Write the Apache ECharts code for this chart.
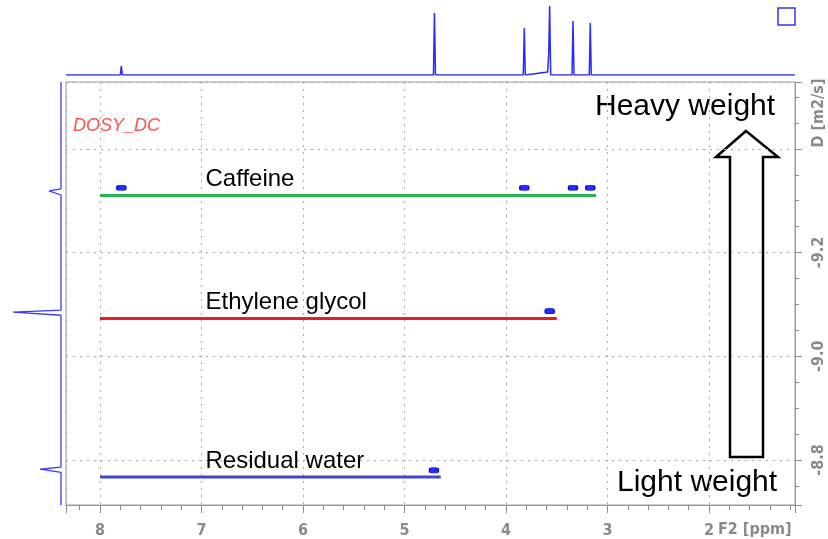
<!DOCTYPE html>
<html>
<head>
<meta charset="utf-8">
<script src="https://cdn.jsdelivr.net/npm/echarts@6/dist/echarts.min.js"></script>
<style>
  html, body { margin: 0; padding: 0; background: #fff; }
  #dosy { width: 828px; height: 539px; }
</style>
</head>
<body>
<div id="dosy"></div>
<script>
// axis ranges (F2 chemical shift, log diffusion coefficient)
var ppmRange = [1.153, 8.335];
var dRange = [-9.529, -8.713];
var xTickLabels = [8, 7, 6, 5, 4, 3, 2];
var yTickLabels = [-9.2, -9.0, -8.8];

// fitted diffusion lines
var compounds = ['Caffeine', 'Ethylene glycol', 'Residual water'];
var compoundD = [-9.310, -9.073, -8.767];
var lineStart = [8.0, 8.0, 8.0];
var lineEnd = [3.113, 3.50, 4.643];

// 2D contour spots
var spotPpm = [7.79, 3.82, 3.34, 3.17, 3.57, 4.71];
var spotD = [-9.325, -9.325, -9.325, -9.325, -9.087, -8.780];

// 1D proton spectrum on top
var specPpm = [8.335, 7.80, 7.79, 7.78, 4.715, 4.705, 4.70, 4.695, 3.83, 3.82, 3.81, 3.59, 3.58, 3.57, 3.56, 3.35, 3.34, 3.33, 3.18, 3.17, 3.16, 1.153];
var specInt = [0, 0, 9, 0, 0, 62, 64, 0, 0, 47, 0, 3, 20, 69, 0, 0, 54, 0, 0, 52, 0, 0];

// diffusion projection on the left
var projD = [-9.529, -9.323, -9.319, -9.311, -9.089, -9.085, -9.079, -8.786, -8.782, -8.776, -8.713];
var projInt = [0, 0, 12, 0, 0, 48, 0, 0, 21, 0, 0];

var lineColors = ['#2cb34a', '#ec1c24', '#3f48cc'];
var tickFont = '"Liberation Sans Narrow", "DejaVu Sans Condensed", sans-serif';
var textFont = '"Liberation Sans", Arial, sans-serif';

function near(v, list) {
  for (var i = 0; i < list.length; i++) {
    if (Math.abs(v - list[i]) < 1e-6) return list[i];
  }
  return null;
}

var chart = echarts.init(document.getElementById('dosy'));

var series = [];
// top spectrum
series.push({
  type: 'line', xAxisIndex: 2, yAxisIndex: 2, symbol: 'none', silent: true,
  lineStyle: { color: '#2a2aff', width: 1.5 },
  data: specPpm.map(function (p, i) { return [p, specInt[i]]; })
});
// left projection
series.push({
  type: 'line', xAxisIndex: 3, yAxisIndex: 3, symbol: 'none', silent: true,
  lineStyle: { color: '#3a3aff', width: 1.3 },
  data: projD.map(function (d, i) { return [projInt[i], d]; })
});
// colored compound lines
compounds.forEach(function (name, i) {
  series.push({
    type: 'line', xAxisIndex: 0, yAxisIndex: 0, symbol: 'none', silent: true,
    lineStyle: { color: lineColors[i], width: 3 },
    data: [[lineStart[i], compoundD[i]], [lineEnd[i], compoundD[i]]]
  });
});
// compound names
series.push({
  type: 'scatter', xAxisIndex: 0, yAxisIndex: 0, symbolSize: 1, silent: true,
  itemStyle: { color: 'transparent', opacity: 1 },
  label: {
    show: true, position: 'right', offset: [100, -16],
    fontFamily: textFont, fontSize: 24, color: '#000', textBorderWidth: 0,
    formatter: function (p) { return compounds[p.dataIndex]; }
  },
  data: compounds.map(function (n, i) { return [lineStart[i], compoundD[i]]; })
});
// contour spots
series.push({
  type: 'scatter', xAxisIndex: 0, yAxisIndex: 0, silent: true,
  symbol: 'roundRect', symbolSize: [9, 5],
  itemStyle: { color: '#1f2fff', borderColor: '#0000dd', borderWidth: 1, opacity: 1 },
  data: spotPpm.map(function (p, i) { return [p, spotD[i]]; })
});

chart.setOption({
  animation: false,
  grid: [
    { left: 66, top: 82, width: 729, height: 423, show: true, borderColor: '#9a9a9a', borderWidth: 1, backgroundColor: '#fff' },
    { left: 66, top: 5, width: 729, height: 70 },
    { left: 5, top: 82, width: 56, height: 423 }
  ],
  xAxis: [
    { // minor ticks
      type: 'value', gridIndex: 0, position: 'bottom', inverse: true,
      min: ppmRange[0], max: ppmRange[1], splitNumber: 36, minInterval: 0.2, maxInterval: 0.2,
      axisLine: { show: true, lineStyle: { color: '#9a9a9a' } },
      axisTick: { show: true, length: 5, lineStyle: { color: '#8a8a8a' } },
      axisLabel: { show: false }, splitLine: { show: false }
    },
    { // major ticks, labels, grid
      type: 'value', gridIndex: 0, position: 'bottom', inverse: true,
      min: ppmRange[0], max: ppmRange[1], splitNumber: 7, minInterval: 1, maxInterval: 1,
      axisLine: { show: false },
      axisTick: { show: true, length: 8, lineStyle: { color: '#8a8a8a' } },
      axisLabel: {
        margin: 18, color: '#8a8a8a', fontWeight: 'bold', fontSize: 16, fontFamily: tickFont,
        formatter: function (v) { var t = near(v, xTickLabels); return t === null ? '' : String(t); }
      },
      splitLine: { show: true, lineStyle: { color: '#aaaaaa', type: [2, 5], width: 1 } }
    },
    { type: 'value', gridIndex: 1, show: false, inverse: true, min: ppmRange[0], max: ppmRange[1] },
    { type: 'value', gridIndex: 2, show: false, inverse: true, min: 0, max: 56 }
  ],
  yAxis: [
    { // major ticks, labels, grid
      type: 'value', gridIndex: 0, position: 'right', inverse: true,
      min: dRange[0], max: dRange[1], splitNumber: 4, minInterval: 0.2, maxInterval: 0.2,
      axisLine: { show: true, lineStyle: { color: '#9a9a9a' } },
      axisTick: { show: true, length: 7, lineStyle: { color: '#8a8a8a' } },
      axisLabel: {
        rotate: 90, margin: 16, color: '#8a8a8a', fontWeight: 'bold', fontSize: 16, fontFamily: tickFont,
        formatter: function (v) { var t = near(v, yTickLabels); return t === null ? '' : t.toFixed(1); }
      },
      splitLine: { show: true, lineStyle: { color: '#aaaaaa', type: [2, 5], width: 1 } }
    },
    { // minor ticks
      type: 'value', gridIndex: 0, position: 'right', inverse: true,
      min: dRange[0], max: dRange[1], splitNumber: 16, minInterval: 0.05, maxInterval: 0.05,
      axisLine: { show: false },
      axisTick: { show: true, length: 4, lineStyle: { color: '#8a8a8a' } },
      axisLabel: { show: false }, splitLine: { show: false }
    },
    { type: 'value', gridIndex: 1, show: false, min: 0, max: 70 },
    { type: 'value', gridIndex: 2, show: false, inverse: true, min: dRange[0], max: dRange[1] }
  ],
  series: series,
  graphic: [
    { type: 'rect', shape: { x: 778, y: 8, width: 17, height: 17 }, style: { fill: 'none', stroke: '#3030ff', lineWidth: 1.5 } },
    { type: 'text', left: 73, top: 117, style: { text: 'DOSY_DC', fill: '#ff5050', font: 'italic 18px ' + textFont } },
    { type: 'text', left: 595, top: 92, style: { text: 'Heavy weight', fill: '#000', font: '30px ' + textFont } },
    { type: 'text', left: 617, top: 468, style: { text: 'Light weight', fill: '#000', font: '30px ' + textFont } },
    { type: 'polygon', shape: { points: [[746, 131], [778, 157], [763, 157], [763, 457], [730, 457], [730, 157], [716, 157]] },
      style: { fill: '#fff', stroke: '#000', lineWidth: 2.5 } },
    { type: 'text', x: 819, y: 113, rotation: Math.PI / 2,
      style: { text: 'D [m2/s]', fill: '#8a8a8a', font: 'bold 16px ' + tickFont, align: 'center', verticalAlign: 'middle' } },
    { type: 'text', left: 718, top: 522, style: { text: 'F2 [ppm]', fill: '#8a8a8a', font: 'bold 16px ' + tickFont } }
  ]
});
</script>
</body>
</html>
